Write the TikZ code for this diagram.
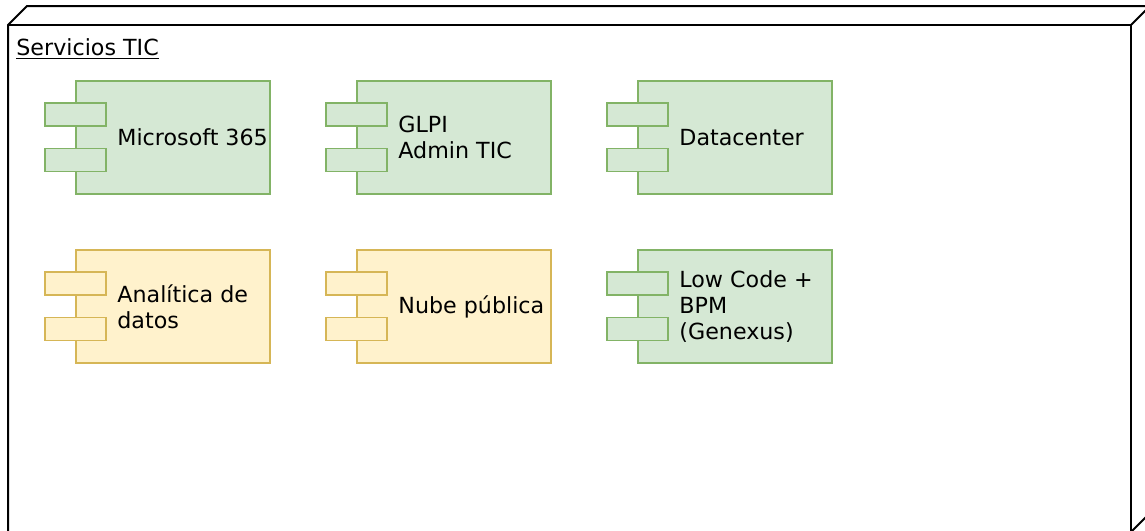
\documentclass[tikz,border=0pt]{standalone}
\usepackage{fontspec}
\setmainfont{DejaVu Sans}
\definecolor{gfill}{HTML}{D5E8D4}
\definecolor{gdraw}{HTML}{82B366}
\definecolor{yfill}{HTML}{FFF2CC}
\definecolor{ydraw}{HTML}{D6B656}
\tikzset{
  frameline/.style={draw=black, line width=1pt},
  compbody/.style={rectangle, inner sep=0pt, outer sep=0pt, line width=0.9pt,
    minimum width=97pt, minimum height=56.5pt, anchor=north west},
  compport/.style={rectangle, inner sep=0pt, outer sep=0pt, line width=0.9pt,
    minimum width=30.5pt, minimum height=11.5pt, anchor=north west},
  greencomp/.style={fill=gfill, draw=gdraw},
  yellowcomp/.style={fill=yfill, draw=ydraw},
  complabel/.style={inner sep=0pt, anchor=west, align=left,
    font=\fontsize{11.1}{13}\selectfont},
}
\newcommand\mycomp[5]{%
  \node[compbody,#4] (#1) at (#2+31,#3) {};
  \node[compport,#4] (#1p1) at (#2,#3+22) {};
  \node[compport,#4] (#1p2) at (#2,#3+67.5) {};
  \node[complabel] (#1t) at (#2+72,#3+56.5) {#5};
}
\begin{document}
\begin{tikzpicture}[x=0.5pt,y=-0.5pt]
\useasboundingbox (0,0) rectangle (1145,530);
\begin{scope}
\clip (0,0) rectangle (1145,530);
\coordinate (fa) at (8,25);
\coordinate (fb) at (1131,25);
\coordinate (fc) at (1131,532);
\coordinate (fd) at (8,532);
\coordinate (ba) at (27,6);
\coordinate (bb) at (1150,6);
\coordinate (bc) at (1150,513);
\filldraw[frameline, fill=white] (fa) -- (ba) -- (bb) -- (bc) -- (fc) -- (fd) -- cycle;
\draw[frameline] (fa) -- (fb) -- (fc);
\draw[frameline] (fb) -- (bb);
\end{scope}
\node[inner sep=0pt, anchor=base west, font=\fontsize{11.1}{13}\selectfont] (title) at (16,55) {\underline{Servicios TIC}};
\mycomp{ms}{45}{81}{greencomp}{Microsoft 365}
\mycomp{glpi}{326}{81}{greencomp}{GLPI\\Admin TIC}
\mycomp{dc}{607}{81}{greencomp}{Datacenter}
\mycomp{ana}{45}{250}{yellowcomp}{Analítica de\\datos}
\mycomp{nube}{326}{250}{yellowcomp}{Nube pública}
\mycomp{low}{607}{250}{greencomp}{Low Code +\\BPM\\(Genexus)}
\end{tikzpicture}
\end{document}
